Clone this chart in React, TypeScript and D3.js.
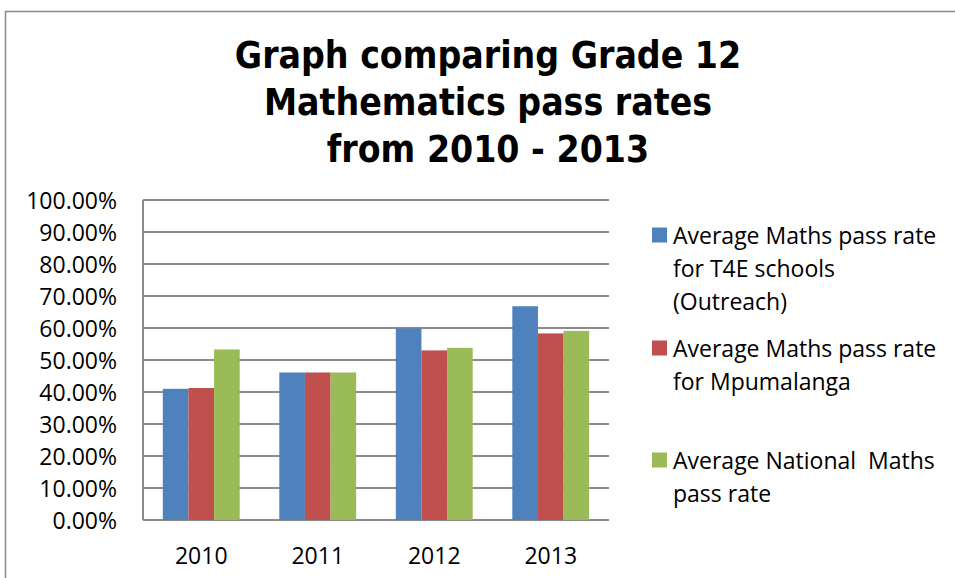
import React from "react";
import * as d3 from "d3";

const years = ["2010", "2011", "2012", "2013"];
const seriesNames = ["t4e", "mpumalanga", "national"];
const t4eRates = [0.41, 0.461, 0.599, 0.668];
const mpumalangaRates = [0.4125, 0.461, 0.53, 0.583];
const nationalRates = [0.533, 0.461, 0.538, 0.591];
const yTicks = [0, 0.1, 0.2, 0.3, 0.4, 0.5, 0.6, 0.7, 0.8, 0.9, 1.0];
const titleLines = ["Graph comparing Grade 12", "Mathematics pass rates", "from 2010 - 2013"];
const legendItems = [
  { lines: ["Average Maths pass rate", "for T4E schools", "(Outreach)"] },
  { lines: ["Average Maths pass rate", "for Mpumalanga"] },
  { lines: ["Average National  Maths", "pass rate"] },
];

const colors = ["#4f81bd", "#c0504d", "#9bbb59"];
const W = 955;
const H = 578;
const plot = { left: 143, right: 609, top: 200, bottom: 520 };
const labelFont = "'Open Sans', 'Noto Sans', sans-serif";

export default function App() {
  const values = [t4eRates, mpumalangaRates, nationalRates];

  const x = d3
    .scaleBand()
    .domain(years)
    .range([plot.left, plot.right])
    .paddingInner(0.34)
    .paddingOuter(0.17);

  const xSeries = d3
    .scaleBand()
    .domain(seriesNames)
    .range([0, x.bandwidth()])
    .padding(0);

  const y = d3.scaleLinear().domain([0, 1]).range([plot.bottom, plot.top]);
  const fmt = d3.format(".2%");

  const legendY = [235, 348, 460];
  const lineGap = 33;

  return (
    <svg
      width={W}
      height={H}
      style={{ position: "absolute", left: 0, top: 0, background: "#fff" }}
    >
      <rect x={0} y={0} width={W} height={H} fill="#fff" />
      {/* outer chart border, cut by the picture edge */}
      <path d={`M5.5,${H}V11.5H${W}`} fill="none" stroke="#8a8a8a" strokeWidth={1.5} />

      {/* title */}
      <g
        fontFamily="'DejaVu Sans Condensed', 'DejaVu Sans', sans-serif"
        fontWeight="bold"
        fontSize={37}
        textAnchor="middle"
        fill="#000"
      >
        {titleLines.map((t, i) => (
          <text key={t} x={488} y={55 + i * 47} dominantBaseline="central">
            {t}
          </text>
        ))}
      </g>

      {/* gridlines */}
      {yTicks.map((t) => (
        <line
          key={t}
          x1={plot.left}
          x2={plot.right}
          y1={y(t)}
          y2={y(t)}
          stroke="#8c8c8c"
          strokeWidth={2}
        />
      ))}
      <line x1={plot.left} x2={plot.left} y1={plot.top} y2={plot.bottom} stroke="#8c8c8c" strokeWidth={2} />

      {/* bars */}
      {years.map((yr, i) => (
        <g key={yr} transform={`translate(${x(yr)},0)`}>
          {seriesNames.map((s, j) => (
            <rect
              key={s}
              x={xSeries(s)!}
              y={y(values[j][i])}
              width={xSeries.bandwidth()}
              height={y(0) - y(values[j][i])}
              fill={colors[j]}
            />
          ))}
        </g>
      ))}

      {/* y labels */}
      <g fontFamily={labelFont} fontSize={23} textAnchor="end" fill="#000">
        {yTicks.map((t) => (
          <text key={t} x={117} y={y(t)} dominantBaseline="central">
            {fmt(t)}
          </text>
        ))}
      </g>

      {/* x labels */}
      <g fontFamily={labelFont} fontSize={23} textAnchor="middle" fill="#000">
        {years.map((yr) => (
          <text key={yr} x={x(yr)! + x.bandwidth() / 2} y={555} dominantBaseline="central">
            {yr}
          </text>
        ))}
      </g>

      {/* legend */}
      <g fontFamily={labelFont} fontSize={23} fill="#000">
        {legendItems.map((item, i) => (
          <g key={i}>
            <rect x={652} y={legendY[i] - 7.5} width={15} height={15} fill={colors[i]} />
            {item.lines.map((ln, k) => (
              <text
                key={k}
                x={673}
                y={legendY[i] + k * lineGap}
                dominantBaseline="central"
                style={{ whiteSpace: "pre" }}
              >
                {ln}
              </text>
            ))}
          </g>
        ))}
      </g>
    </svg>
  );
}
